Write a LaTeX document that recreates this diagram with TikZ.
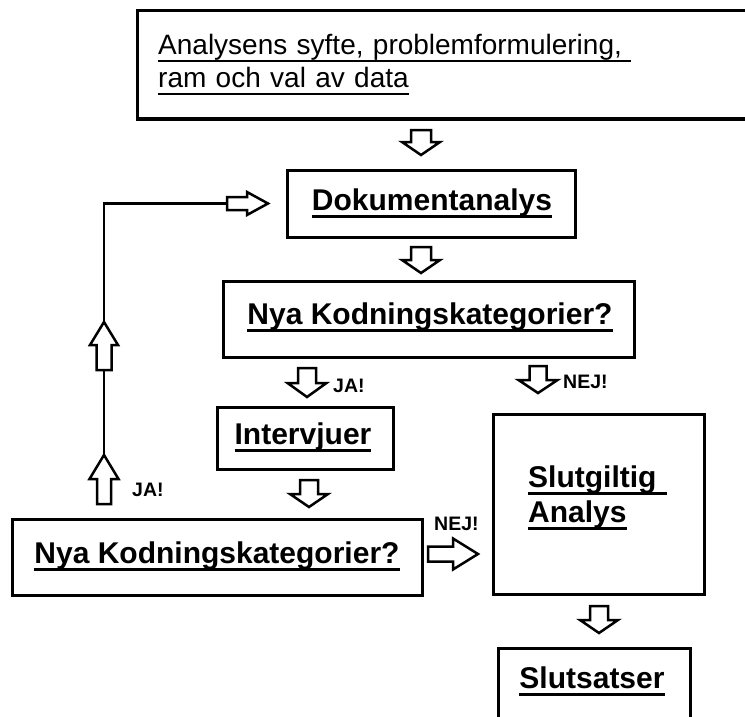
\documentclass[tikz,border=0pt]{standalone}
\usepackage{fontspec}
\setmainfont{Liberation Sans}
% text with a heavy underline that spans the whole box, trailing spaces included
\newcommand\ulbox[1]{\leavevmode\setbox0=\hbox{#1}\rlap{\vrule height -4.8pt depth 7.5pt width \wd0}\box0}
\begin{document}
\begin{tikzpicture}[x=1pt,y=-1pt,
  box/.style={draw, line width=3pt, rectangle, inner sep=0pt, outer sep=0pt, anchor=north west},
  boxtext/.style={inner sep=0pt, anchor=base, font=\bfseries\fontsize{30}{35}\selectfont},
  lbl/.style={inner sep=0pt, anchor=base west, font=\bfseries\fontsize{19.5}{22}\selectfont},
  link/.style={line width=2.5pt},
  % hollow block arrow: tip at the origin, pointing along +x
  % arguments: length / head length / head half width / shaft half width
  pics/barrow/.style args={#1/#2/#3/#4}{code={
    \draw[line width=2.5pt, line join=miter, fill=white]
      (0,0) -- (-#2,#3) -- (-#2,#4) -- (-#1,#4) -- (-#1,-#4) -- (-#2,-#4) -- (-#2,-#3) -- cycle;
    \coordinate (-tip) at (0,0);
    \coordinate (-tail) at (-#1,0);
  }}
]
\useasboundingbox (0,0) rectangle (745,717);
\clip (0,0) rectangle (745,717);

% boxes
\node[box, minimum width=623pt, minimum height=108pt] (top) at (137,11) {};
\node[box, minimum width=288pt, minimum height=67pt] (doc) at (287,170) {};
\node[box, minimum width=411pt, minimum height=76pt] (nya1) at (223,281) {};
\node[box, minimum width=176pt, minimum height=62pt] (interv) at (217,407) {};
\node[box, minimum width=211pt, minimum height=180pt] (slut) at (493,414) {};
\node[box, minimum width=410pt, minimum height=76pt] (nya2) at (12,519) {};
\node[box, minimum width=192pt, minimum height=90pt] (satser) at (498,648) {};

% box texts
\node[boxtext, font=\fontsize{28}{33}\selectfont, anchor=base west, text width=560pt, align=left] (topT) at (158,55)
  {\ulbox{Analysens syfte, problemformulering,\ }\\\ulbox{ram och val av data}};
\node[boxtext] (docT) at (432,210) {\ulbox{Dokumentanalys}};
\node[boxtext] (nya1T) at (430,324) {\ulbox{Nya Kodningskategorier?}};
\node[boxtext] (intervT) at (303,444) {\ulbox{Intervjuer}};
\node[boxtext, anchor=base west, text width=180pt, align=left] (slutT) at (528,487)
  {\ulbox{Slutgiltig\ }\\\ulbox{Analys}};
\node[boxtext] (nya2T) at (217,563) {\ulbox{Nya Kodningskategorier?}};
\node[boxtext] (satserT) at (592,688) {\ulbox{Slutsatser}};

% block arrows
\pic[rotate=-90] (a1) at (421,155) {barrow=25/13/19/10};
\pic[rotate=-90] (a2) at (421,273) {barrow=26/13/19/10};
\pic[rotate=-90] (a3) at (307,397) {barrow=29/14/19.5/9};
\pic[rotate=-90] (a4) at (538,393) {barrow=27/13/19.5/8.5};
\pic[rotate=-90] (a5) at (309,507) {barrow=27/13/19/9};
\pic (a6) at (478,554) {barrow=50/25/15.5/7.5};
\pic[rotate=90] (a7) at (104,455) {barrow=49/24/14.5/7};
\pic[rotate=90] (a8) at (104,322) {barrow=48/23/14/7.5};
\pic (a9) at (268,203.5) {barrow=41/21/11.5/6.5};
\pic[rotate=-90] (a10) at (599,633) {barrow=27/13/19/9};

% feedback line
\draw[link] (a7-tip) -- (a8-tail);
\draw[link] (a8-tip) |- (a9-tail);

% answer labels
\node[lbl] (ja1) at (333,392) {JA!};
\node[lbl] (nej1) at (563,388) {NEJ!};
\node[lbl] (nej2) at (434,530) {NEJ!};
\node[lbl] (ja2) at (132,496) {JA!};
\end{tikzpicture}
\end{document}
